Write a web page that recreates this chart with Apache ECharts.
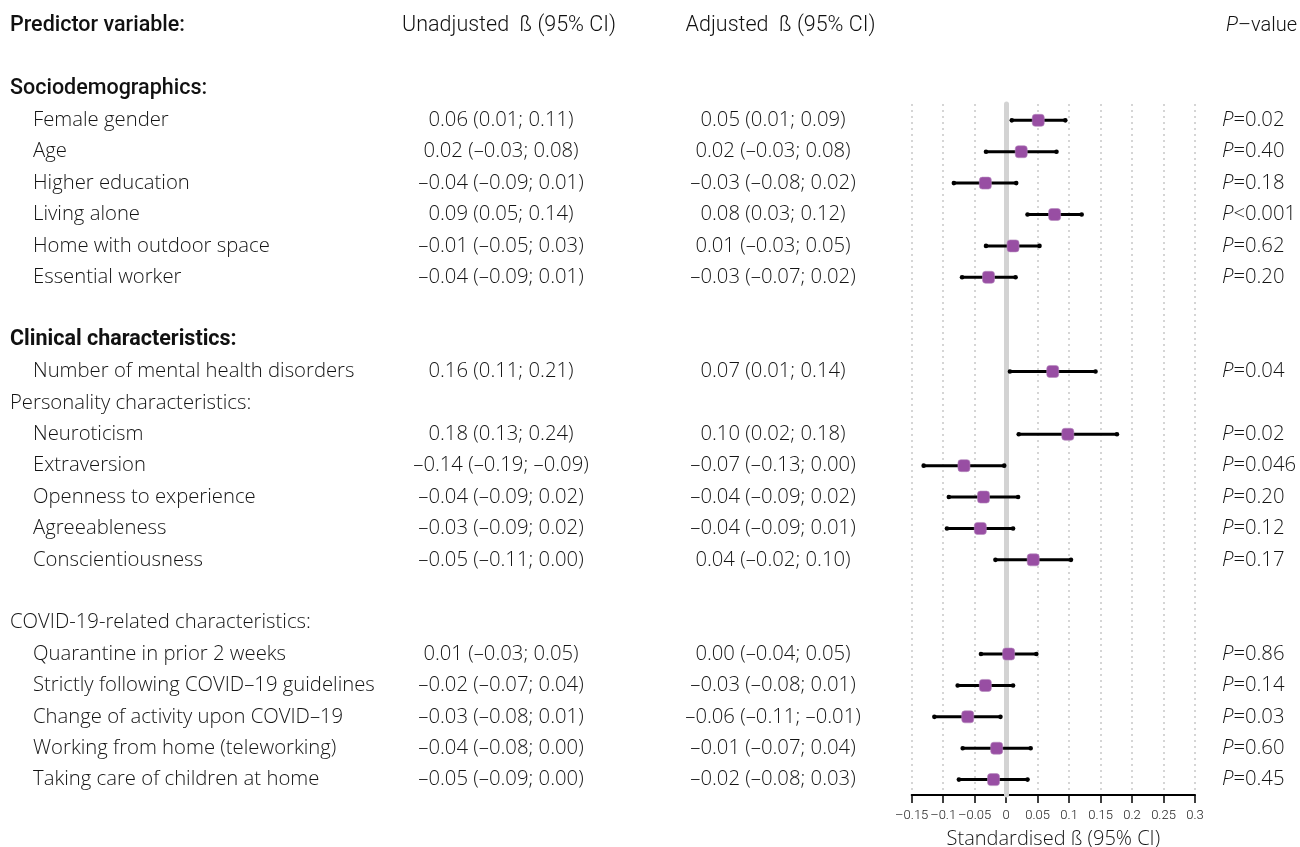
<!DOCTYPE html>
<html>
<head>
<meta charset="utf-8">
<script src="https://cdn.jsdelivr.net/npm/echarts@6/dist/echarts.min.js"></script>
<style>
html,body{margin:0;padding:0;background:#fff;}
#chart{width:1300px;height:847px;}
</style>
</head>
<body>
<div id="chart"></div>
<script>
// ---- data ----
const columnHeaders = ['Predictor variable:', 'Unadjusted  ß (95% CI)', 'Adjusted  ß (95% CI)', 'P–value'];
const groupHeadings = ['Sociodemographics:', 'Clinical characteristics:', 'Personality characteristics:', 'COVID-19-related characteristics:'];
const rowLabels = [
  '',
  'Sociodemographics:',
  'Female gender', 'Age', 'Higher education', 'Living alone', 'Home with outdoor space', 'Essential worker',
  '',
  'Clinical characteristics:',
  'Number of mental health disorders',
  'Personality characteristics:',
  'Neuroticism', 'Extraversion', 'Openness to experience', 'Agreeableness', 'Conscientiousness',
  '',
  'COVID-19-related characteristics:',
  'Quarantine in prior 2 weeks', 'Strictly following COVID–19 guidelines', 'Change of activity upon COVID–19',
  'Working from home (teleworking)', 'Taking care of children at home'
];
const predictors = [
  'Female gender', 'Age', 'Higher education', 'Living alone', 'Home with outdoor space', 'Essential worker',
  'Number of mental health disorders',
  'Neuroticism', 'Extraversion', 'Openness to experience', 'Agreeableness', 'Conscientiousness',
  'Quarantine in prior 2 weeks', 'Strictly following COVID–19 guidelines', 'Change of activity upon COVID–19',
  'Working from home (teleworking)', 'Taking care of children at home'
];
const unadjusted = [
  '0.06 (0.01; 0.11)', '0.02 (–0.03; 0.08)', '–0.04 (–0.09; 0.01)', '0.09 (0.05; 0.14)', '–0.01 (–0.05; 0.03)', '–0.04 (–0.09; 0.01)',
  '0.16 (0.11; 0.21)',
  '0.18 (0.13; 0.24)', '–0.14 (–0.19; –0.09)', '–0.04 (–0.09; 0.02)', '–0.03 (–0.09; 0.02)', '–0.05 (–0.11; 0.00)',
  '0.01 (–0.03; 0.05)', '–0.02 (–0.07; 0.04)', '–0.03 (–0.08; 0.01)', '–0.04 (–0.08; 0.00)', '–0.05 (–0.09; 0.00)'
];
const adjusted = [
  '0.05 (0.01; 0.09)', '0.02 (–0.03; 0.08)', '–0.03 (–0.08; 0.02)', '0.08 (0.03; 0.12)', '0.01 (–0.03; 0.05)', '–0.03 (–0.07; 0.02)',
  '0.07 (0.01; 0.14)',
  '0.10 (0.02; 0.18)', '–0.07 (–0.13; 0.00)', '–0.04 (–0.09; 0.02)', '–0.04 (–0.09; 0.01)', '0.04 (–0.02; 0.10)',
  '0.00 (–0.04; 0.05)', '–0.03 (–0.08; 0.01)', '–0.06 (–0.11; –0.01)', '–0.01 (–0.07; 0.04)', '–0.02 (–0.08; 0.03)'
];
const pValues = [
  'P=0.02', 'P=0.40', 'P=0.18', 'P<0.001', 'P=0.62', 'P=0.20',
  'P=0.04',
  'P=0.02', 'P=0.046', 'P=0.20', 'P=0.12', 'P=0.17',
  'P=0.86', 'P=0.14', 'P=0.03', 'P=0.60', 'P=0.45'
];
// plotted standardised beta (adjusted) with 95% CI
const estimate = [0.051, 0.024, -0.033, 0.077, 0.011, -0.028, 0.074, 0.098, -0.067, -0.036, -0.041, 0.043, 0.004, -0.033, -0.061, -0.015, -0.020];
const lower    = [0.009, -0.032, -0.083, 0.034, -0.032, -0.070, 0.006, 0.020, -0.131, -0.091, -0.094, -0.017, -0.040, -0.077, -0.114, -0.069, -0.075];
const upper    = [0.094, 0.080, 0.016, 0.120, 0.053, 0.015, 0.142, 0.176, -0.003, 0.019, 0.011, 0.103, 0.048, 0.011, -0.009, 0.039, 0.034];
const xTicks = { min: -0.15, max: 0.3, interval: 0.05 };

// ---- build ----
const nRows = rowLabels.length + 1; // + column header row
const cats = [];
for (let i = 0; i < nRows; i++) cats.push(String(i));
const rowOf = predictors.map(p => rowLabels.indexOf(p) + 1);
function colText(arr) {
  const m = {};
  predictors.forEach((p, k) => { m[rowOf[k]] = arr[k]; });
  return m;
}
const unadjMap = colText(unadjusted), adjMap = colText(adjusted), pMap = colText(pValues);

const ITEM_FONT = '"Open Sans", "Noto Sans", sans-serif';
const HEAD_FONT = 'Roboto, "Liberation Sans", sans-serif';
const TXT = '#141414';
const FS = 20.3;

function baseCatAxis(offset, align, formatter, rich) {
  return {
    type: 'category', gridIndex: 0, position: 'left', offset: offset, inverse: true, data: cats,
    axisLine: { show: false }, axisTick: { show: false }, splitLine: { show: false },
    axisLabel: { show: true, interval: 0, margin: 0, align: align, formatter: formatter, rich: rich,
      color: TXT, fontFamily: ITEM_FONT, fontSize: FS, fontWeight: 300 }
  };
}
const headRich = { fontFamily: HEAD_FONT, fontSize: 21.5, color: '#111' };
const itemRich = { fontFamily: ITEM_FONT, fontSize: FS, fontWeight: 300, color: TXT };

const yAxes = [
  baseCatAxis(-10, 'left', (v, i) => {
    if (i === 0) return '{h|' + columnHeaders[0] + '}';
    const t = rowLabels[i - 1];
    if (!t) return '';
    if (t === groupHeadings[0]) return '{g1|' + t + '}';
    if (t === groupHeadings[1]) return '{g2|' + t + '}';
    if (t === groupHeadings[2] || t === groupHeadings[3]) return '{g3|' + t + '}';
    return '{it|' + t + '}';
  }, {
    h: Object.assign({}, headRich, { fontWeight: 500 }),
    g1: Object.assign({}, headRich, { fontWeight: 500 }),
    g2: Object.assign({}, headRich, { fontWeight: 'bold' }),
    g3: Object.assign({}, itemRich),
    it: Object.assign({}, itemRich, { padding: [0, 0, 0, 23] })
  }),
  baseCatAxis(-501, 'center', (v, i) => i === 0 ? '{h|' + columnHeaders[1] + '}' : '{n|' + (unadjMap[i] || '') + '}',
    { h: Object.assign({}, headRich, { padding: [0, 0, 0, 16] }), n: Object.assign({}, itemRich) }),
  baseCatAxis(-773, 'center', (v, i) => i === 0 ? '{h|' + columnHeaders[2] + '}' : '{n|' + (adjMap[i] || '') + '}',
    { h: Object.assign({}, headRich, { padding: [0, 0, 0, 15] }), n: Object.assign({}, itemRich) }),
  baseCatAxis(-1222, 'left', (v, i) => {
    const t = i === 0 ? columnHeaders[3] : pMap[i];
    if (!t) return '';
    const rest = t.slice(1);
    return i === 0 ? '{hi|P}{h|' + rest + '}' : '{i|P}{n|' + rest + '}';
  }, {
    hi: Object.assign({}, headRich, { fontSize: 20, fontStyle: 'italic', padding: [0, 0, 0, 4] }),
    h: Object.assign({}, headRich, { fontSize: 20 }),
    i: Object.assign({}, itemRich, { fontStyle: 'italic' }),
    n: Object.assign({}, itemRich)
  })
];
// forest plot y axis (row index scale)
yAxes.push({ type: 'value', gridIndex: 1, inverse: true, min: 2.48, max: 24.49, show: false });

const ciData = predictors.map((p, k) => [rowOf[k], lower[k], upper[k]]);
const ptData = predictors.map((p, k) => [estimate[k], rowOf[k]]);

const option = {
  animation: false,
  backgroundColor: '#fff',
  grid: [
    { left: 0, right: 0, top: 10.3, bottom: 51.7, outerBoundsMode: 'none' },
    { left: 911.7, right: 105, top: 104, bottom: 52, outerBoundsMode: 'none' }
  ],
  xAxis: [
    { type: 'value', gridIndex: 0, show: false, min: 0, max: 1 },
    {
      type: 'value', gridIndex: 1, min: xTicks.min, max: xTicks.max, interval: xTicks.interval,
      name: 'Standardised ß (95% CI)', nameLocation: 'middle', nameGap: 34,
      nameTextStyle: { fontFamily: ITEM_FONT, fontSize: 20, fontWeight: 300, color: TXT },
      axisLine: { show: true, onZero: false, lineStyle: { color: '#000', width: 2 } },
      axisTick: { show: true, length: 8, lineStyle: { color: '#000', width: 1.5 } },
      axisLabel: { margin: 14, fontFamily: 'Roboto, "Open Sans", sans-serif', fontWeight: 300, fontSize: 13, color: '#1a1a1a',
        showMinLabel: true, showMaxLabel: true, hideOverlap: false,
        formatter: v => String(Math.round(v * 100) / 100).replace('-', '–') },
      splitLine: { show: true, lineStyle: { color: '#c8c8c8', width: 1.5, type: [2, 4] } }
    }
  ],
  yAxis: yAxes,
  series: [
    {
      type: 'scatter', xAxisIndex: 1, yAxisIndex: 4, data: [], z: 1, silent: true,
      markLine: { silent: true, z: 1, symbol: 'none', label: { show: false },
        lineStyle: { color: '#d3d3d3', width: 5, type: 'solid', cap: 'round' },
        data: [{ xAxis: 0 }] }
    },
    {
      type: 'custom', xAxisIndex: 1, yAxisIndex: 4, z: 6, silent: true,
      data: ciData,
      encode: { x: [1, 2], y: 0 },
      renderItem: function (params, api) {
        const a = api.coord([api.value(1), api.value(0)]);
        const b = api.coord([api.value(2), api.value(0)]);
        return {
          type: 'group', children: [
            { type: 'rect', shape: { x: a[0], y: a[1] - 1.5, width: b[0] - a[0], height: 3 }, style: { fill: '#000' } },
            { type: 'circle', shape: { cx: a[0], cy: a[1], r: 2.3 }, style: { fill: '#000' } },
            { type: 'circle', shape: { cx: b[0], cy: b[1], r: 2.3 }, style: { fill: '#000' } }
          ]
        };
      }
    },
    {
      type: 'scatter', xAxisIndex: 1, yAxisIndex: 4, z: 7, silent: true,
      data: ptData, symbol: 'roundRect', symbolSize: 12,
      itemStyle: { color: '#984ea3', borderColor: '#b58abd', borderWidth: 0.6, opacity: 1 }
    }
  ]
};
const chart = echarts.init(document.getElementById('chart'), null, { renderer: 'canvas' });
chart.setOption(option);
</script>
</body>
</html>
